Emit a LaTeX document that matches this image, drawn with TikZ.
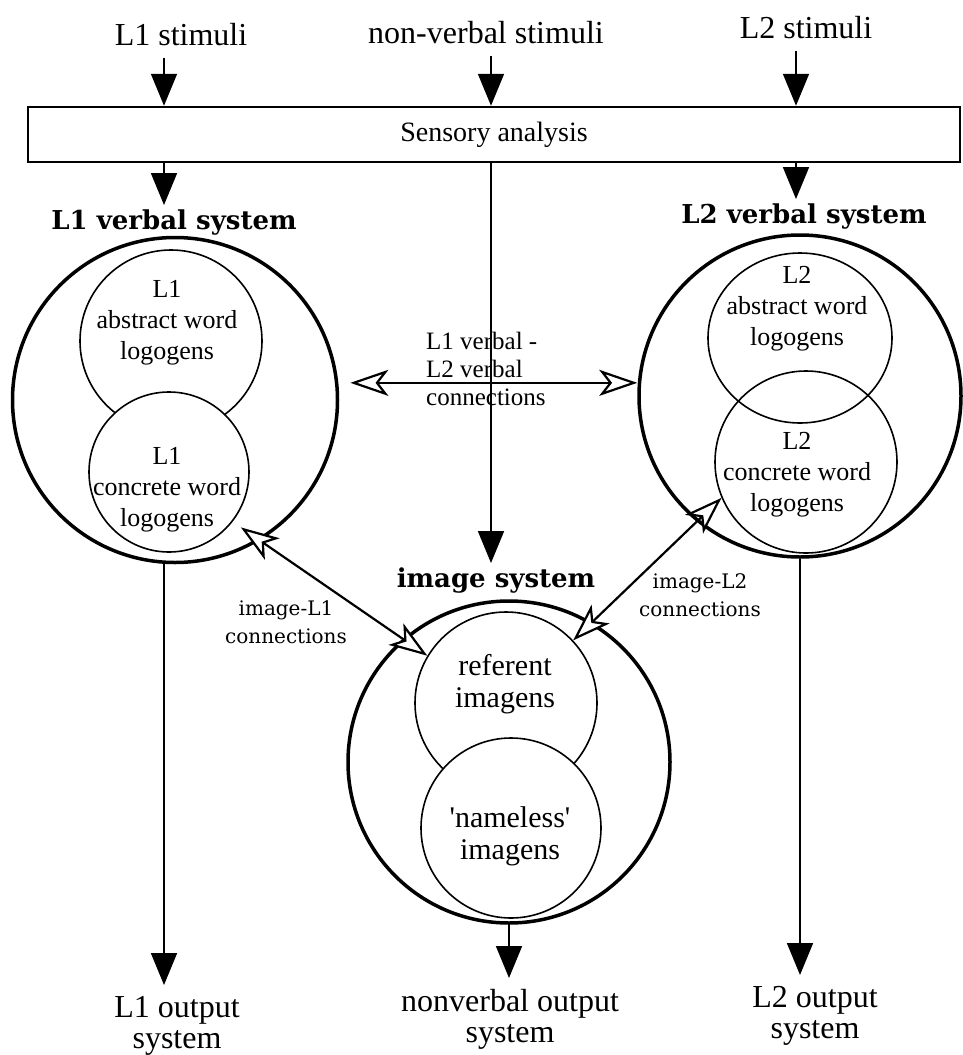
\documentclass[tikz,border=0pt]{standalone}
\usepackage{fontspec}
\setmainfont{Liberation Serif}
\newfontfamily\sysfont{DejaVu Serif}
\newfontfamily\linkfont{DejaVu Serif}
\usetikzlibrary{arrows.meta,shapes.geometric}
\tikzset{
  bigsys/.style={circle, draw, line width=3.5pt, inner sep=0pt},
  subsys/.style={circle, draw, line width=1.6pt, inner sep=0pt},
  stimlabel/.style={font=\fontsize{32}{31}\selectfont, inner xsep=0pt, inner ysep=12pt, anchor=base},
  outlabel/.style={font=\fontsize{32}{31}\selectfont, align=center, inner xsep=0pt, inner ysep=11pt, anchor=north},
  syslabel/.style={font=\sysfont\bfseries\fontsize{26}{26}\selectfont, inner sep=4pt, anchor=base},
  subtext/.style={font=\fontsize{26}{31}\selectfont, align=center, inner sep=0pt},
  imgtext/.style={font=\fontsize{30}{32}\selectfont, align=center, inner sep=0pt},
  linktext/.style={font=\linkfont\fontsize{20}{28}\selectfont, align=center, inner sep=0pt},
  flow/.style={line width=1.8pt, >={Triangle[length=32pt, width=26pt]}, ->},
  link/.style={line width=2.2pt, >={Stealth[length=38pt, width=26pt, inset=10pt, fill=white]}, <->},
}
\begin{document}
\begin{tikzpicture}[x=1pt, y=-1pt]
  \useasboundingbox (0,0) rectangle (962,1055);
  % Columns of the vertical flow
  \coordinate (c1) at (164,0);
  \coordinate (c2) at (491,0);
  \coordinate (c3) at (796,0);
  % Stimuli and sensory analysis
  \node[stimlabel] (L1stim) at (181,45) {L1 stimuli};
  \node[stimlabel] (NVstim) at (486,43) {non-verbal stimuli};
  \node[stimlabel] (L2stim) at (806,38) {L2 stimuli};
  \node[draw, line width=2.5pt, minimum width=932pt, minimum height=55pt, inner sep=0pt,
    font=\fontsize{28}{28}\selectfont] (sens) at (494,134.5) {Sensory analysis};
  % System labels
  \node[syslabel] (L1lab) at (174,229) {L1 verbal system};
  \node[syslabel] (L2lab) at (804,223) {L2 verbal system};
  \node[syslabel] (imglab) at (496,587) {image system};
  % Systems (outer circles, then inner ones)
  \node[bigsys, minimum size=325pt] (L1sys) at (175,400) {};
  \node[bigsys, minimum size=322pt] (L2sys) at (800,396) {};
  \node[bigsys, minimum size=322pt] (imgsys) at (509,762) {};
  \node[subsys, minimum size=182pt] (L1abs) at (171,341) {};
  \node[subsys, fill=white, minimum size=160pt] (L1con) at (169,472) {};
  \node[subsys, ellipse, minimum width=184pt, minimum height=170pt] (L2abs) at (800,338) {};
  \node[subsys, minimum size=182pt] (L2con) at (806,462) {};
  \node[subsys, minimum size=182pt] (ref) at (506,703) {};
  \node[subsys, fill=white, minimum size=180pt] (nameless) at (511,828) {};
  % Texts inside the systems
  \node[subtext] (L1abstxt) at (167,323) {L1\\abstract word\\logogens};
  \node[subtext] (L1contxt) at (167,490) {L1\\concrete word\\logogens};
  \node[subtext] (L2abstxt) at (797,309) {L2\\abstract word\\logogens};
  \node[subtext] (L2contxt) at (797,475) {L2\\concrete word\\logogens};
  \node[imgtext] (reftxt) at (505,684) {referent\\imagens};
  \node[imgtext] (nametxt) at (510,836) {\textquotesingle nameless\textquotesingle\\imagens};
  % Connection labels
  \node[font=\fontsize{25}{28}\selectfont, align=left, inner sep=0pt, anchor=west] (vvtxt)
    at (426,369) {L1 verbal -\\L2 verbal\\connections};
  \node[linktext] (i1txt) at (286,622) {image-L1\\connections};
  \node[linktext] (i2txt) at (700,595) {image-L2\\connections};
  % Output labels
  \node[outlabel] (L1out) at (177,985) {L1 output\\system};
  \node[outlabel] (NVout) at (510,978) {nonverbal output\\system};
  \node[outlabel] (L2out) at (815,975) {L2 output\\system};
  % Flow arrows
  \draw[flow] (c1 |- L1stim.south) -- (c1 |- sens.north);
  \draw[flow] (c2 |- NVstim.south) -- (c2 |- sens.north);
  \draw[flow] (c3 |- L2stim.south) -- (c3 |- sens.north);
  \draw[flow] (c1 |- sens.south) -- (c1 |- L1lab.north);
  \draw[flow] (c3 |- sens.south) -- (c3 |- L2lab.north);
  \draw[flow] (c2 |- sens.south) -- (c2 |- imglab.north);
  \draw[flow] (L1sys.south -| c1) -- (c1 |- L1out.north);
  \draw[flow] (imgsys.south) -- (imgsys.south |- NVout.north);
  \draw[flow] (L2sys.south) -- (L2sys.south |- L2out.north);
  % Connections
  \draw[link, shorten <=12pt] (L1sys.6) -- (L1sys.6 -| L2sys.west);
  \draw[link, shorten <=10pt] (L1con.-38) -- (ref.149);
  \draw[link] (L2con.203) -- (ref.43);
\end{tikzpicture}
\end{document}
